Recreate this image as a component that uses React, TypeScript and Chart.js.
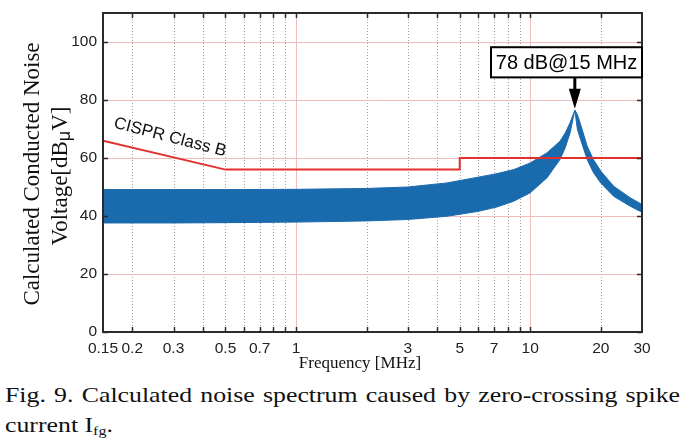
import React, { useEffect, useRef } from 'react';
import { Chart, registerables } from 'chart.js';

Chart.register(...registerables);

// ---- data ----
const freqs = [0.15, 0.3, 0.5, 1, 2, 3, 4.4, 6, 7.2, 8.5, 10, 11.8, 13.4, 14.1, 14.8, 15.5, 15.9, 16.4, 17.5, 18.6, 20, 22.7, 26.7, 30];
const bandUpper = [49.1, 49.1, 49.1, 49.2, 49.5, 50.0, 51.4, 53.4, 54.6, 56.0, 58.3, 61.8, 65.8, 68.6, 72.2, 76.5, 75.0, 71.6, 64.1, 59.5, 55.5, 50.3, 46.3, 44.0];
const bandLower = [37.6, 37.6, 37.7, 37.9, 38.3, 38.8, 39.9, 41.6, 43.1, 45.1, 48.0, 53.2, 59.5, 63.5, 68.7, 76.5, 69.8, 66.4, 59.5, 55.0, 51.4, 46.8, 43.4, 41.3];

const cisprFreqs = [0.15, 0.5, 5, 5, 30];
const cisprLimit = [66, 56, 56, 60, 60];

const xGridValues = [0.15, 0.2, 0.3, 0.4, 0.5, 0.6, 0.7, 0.8, 0.9, 1, 2, 3, 4, 5, 6, 7, 8, 9, 10, 20, 30];
const xTickLabels = [0.15, 0.2, 0.3, 0.5, 0.7, 1, 3, 5, 7, 10, 20, 30];
const xMajorGrid = [1, 10];
const yTickValues = [0, 20, 40, 60, 80, 100];

const peakLabel = '78 dB@15 MHz';
const peakPoint = [15.5, 77];
const peakBox = [6.8, 30, 87.8, 98.2]; // xMin, xMax, yMin, yMax
const cisprLabel = 'CISPR Class B';
const cisprLabelPos = [0.29, 67.1];

const yTitleLine1 = 'Calculated Conducted Noise';
const yTitleLine2 = ['Voltage[dB', 'μ', 'V]'];
const xTitle = 'Frequency [MHz]';
const captionLine1 = 'Fig. 9. Calculated noise spectrum caused by zero-crossing spike';
const captionLine2 = 'current I';
const captionSub = 'fg';

const BLUE = '#1a6aae';
const RED = '#e3302c';
const PINK = '#f1bcbc';
const SANS = '"Liberation Sans", Arial, sans-serif';
const SERIF = '"Liberation Serif", "Times New Roman", serif';

const decor = {
  id: 'decor',
  beforeDatasetsDraw(chart: any) {
    const { ctx, chartArea: a, scales } = chart;
    const x = scales.x, y = scales.y;
    ctx.save();
    ctx.beginPath();
    ctx.rect(a.left, a.top, a.right - a.left, a.bottom - a.top);
    ctx.clip();
    ctx.lineWidth = 1;
    ctx.strokeStyle = '#a3a3a3';
    ctx.setLineDash([1, 2]);
    for (const v of xGridValues) {
      if (v <= 0.15 || v >= 30 || xMajorGrid.includes(v)) continue;
      const px = Math.round(x.getPixelForValue(v)) + 0.5;
      ctx.beginPath();
      ctx.moveTo(px, a.top);
      ctx.lineTo(px, a.bottom);
      ctx.stroke();
    }
    ctx.setLineDash([]);
    ctx.strokeStyle = PINK;
    for (const v of xMajorGrid) {
      const px = Math.round(x.getPixelForValue(v)) + 0.5;
      ctx.beginPath();
      ctx.moveTo(px, a.top);
      ctx.lineTo(px, a.bottom);
      ctx.stroke();
    }
    for (const v of yTickValues) {
      if (v === 0) continue;
      const py = Math.round(y.getPixelForValue(v)) + 0.5;
      ctx.beginPath();
      ctx.moveTo(a.left, py);
      ctx.lineTo(a.right, py);
      ctx.stroke();
    }
    ctx.restore();
  },
  afterDatasetsDraw(chart: any) {
    const { ctx, chartArea: a, scales } = chart;
    const x = scales.x, y = scales.y;
    ctx.save();
    ctx.strokeStyle = '#2b2b2b';
    ctx.lineWidth = 2;
    ctx.strokeRect(a.left, a.top, a.right - a.left, a.bottom - a.top);
    ctx.lineWidth = 1.5;
    const tl = 5;
    for (const v of xGridValues) {
      if (v <= 0.15 || v >= 30) continue;
      const px = Math.round(x.getPixelForValue(v)) + 0.5;
      ctx.beginPath();
      ctx.moveTo(px, a.bottom);
      ctx.lineTo(px, a.bottom - tl);
      ctx.moveTo(px, a.top);
      ctx.lineTo(px, a.top + tl);
      ctx.stroke();
    }
    for (const v of yTickValues) {
      const py = Math.round(y.getPixelForValue(v)) + 0.5;
      ctx.beginPath();
      ctx.moveTo(a.left, py);
      ctx.lineTo(a.left + tl, py);
      ctx.moveTo(a.right, py);
      ctx.lineTo(a.right - tl, py);
      ctx.stroke();
    }

    // peak annotation
    const bx0 = x.getPixelForValue(peakBox[0]);
    const bx1 = x.getPixelForValue(peakBox[1]);
    const by0 = y.getPixelForValue(peakBox[3]);
    const by1 = y.getPixelForValue(peakBox[2]);
    const tipX = x.getPixelForValue(peakPoint[0]);
    const tipY = y.getPixelForValue(peakPoint[1]);
    const headLen = 20, headW = 6;
    ctx.strokeStyle = '#000';
    ctx.fillStyle = '#000';
    ctx.lineWidth = 3;
    ctx.beginPath();
    ctx.moveTo(tipX, by1);
    ctx.lineTo(tipX, tipY - headLen + 2);
    ctx.stroke();
    ctx.beginPath();
    ctx.moveTo(tipX - headW, tipY - headLen);
    ctx.lineTo(tipX + headW, tipY - headLen);
    ctx.lineTo(tipX, tipY);
    ctx.closePath();
    ctx.fill();
    ctx.fillStyle = '#fff';
    ctx.fillRect(bx0, by0, bx1 - bx0, by1 - by0);
    ctx.lineWidth = 2;
    ctx.strokeRect(bx0, by0, bx1 - bx0, by1 - by0);
    ctx.fillStyle = '#000';
    ctx.font = `20px ${SANS}`;
    ctx.textAlign = 'center';
    ctx.textBaseline = 'middle';
    ctx.fillText(peakLabel, (bx0 + bx1) / 2, (by0 + by1) / 2 + 1);

    // CISPR label
    ctx.save();
    ctx.translate(x.getPixelForValue(cisprLabelPos[0]), y.getPixelForValue(cisprLabelPos[1]));
    ctx.rotate((14.5 * Math.PI) / 180);
    ctx.font = `17px ${SANS}`;
    ctx.fillStyle = '#111';
    ctx.fillText(cisprLabel, 0, 0);
    ctx.restore();

    // x title
    ctx.font = `17px ${SERIF}`;
    ctx.fillStyle = '#111';
    ctx.textAlign = 'center';
    ctx.textBaseline = 'alphabetic';
    ctx.fillText(xTitle, 360, 368);

    // y title
    ctx.save();
    ctx.translate(33, 174);
    ctx.rotate(-Math.PI / 2);
    ctx.font = `23px ${SERIF}`;
    ctx.textAlign = 'center';
    ctx.textBaseline = 'middle';
    ctx.fillText(yTitleLine1, 0, 0);
    ctx.restore();

    ctx.save();
    ctx.translate(61, 176);
    ctx.rotate(-Math.PI / 2);
    ctx.textAlign = 'left';
    ctx.textBaseline = 'middle';
    const f1 = `23px ${SERIF}`;
    const f2 = `18px ${SANS}`;
    ctx.font = f1;
    const w0 = ctx.measureText(yTitleLine2[0]).width;
    const w2 = ctx.measureText(yTitleLine2[2]).width;
    ctx.font = f2;
    const w1 = ctx.measureText(yTitleLine2[1]).width;
    let sx = -(w0 + w1 + w2) / 2;
    ctx.font = f1;
    ctx.fillText(yTitleLine2[0], sx, 0);
    sx += w0;
    ctx.font = f2;
    ctx.fillText(yTitleLine2[1], sx, 4);
    sx += w1;
    ctx.font = f1;
    ctx.fillText(yTitleLine2[2], sx, 0);
    ctx.restore();

    ctx.restore();
  },
};

const STRETCH = 1.2;

export default function App() {
  const ref = useRef<HTMLCanvasElement | null>(null);

  useEffect(() => {
    if (!ref.current) return;
    const chart = new Chart(ref.current, {
      type: 'line',
      data: {
        datasets: [
          {
            label: 'CISPR Class B',
            data: cisprFreqs.map((f, i) => ({ x: f, y: cisprLimit[i] })),
            borderColor: RED,
            borderWidth: 2,
            pointRadius: 0,
            tension: 0,
            fill: false,
          },
          {
            label: 'upper',
            data: freqs.map((f, i) => ({ x: f, y: bandUpper[i] })),
            borderColor: BLUE,
            backgroundColor: BLUE,
            borderWidth: 1,
            pointRadius: 0,
            tension: 0,
            fill: '+1',
          },
          {
            label: 'lower',
            data: freqs.map((f, i) => ({ x: f, y: bandLower[i] })),
            borderColor: BLUE,
            backgroundColor: BLUE,
            borderWidth: 1,
            pointRadius: 0,
            tension: 0,
            fill: false,
          },
        ],
      },
      options: {
        responsive: false,
        animation: false,
        devicePixelRatio: 1,
        layout: { padding: { top: 13, left: 8, right: 43, bottom: 0 } },
        plugins: {
          legend: { display: false },
          tooltip: { enabled: false },
        },
        scales: {
          x: {
            type: 'logarithmic',
            min: 0.15,
            max: 30,
            grid: { display: false, drawTicks: false },
            border: { display: false },
            afterBuildTicks: (s: any) => {
              s.ticks = xGridValues.map((v) => ({ value: v }));
            },
            afterFit: (s: any) => {
              s.height = 48;
              s.paddingLeft = 0;
              s.paddingRight = 0;
            },
            ticks: {
              autoSkip: false,
              maxRotation: 0,
              minRotation: 0,
              padding: 7,
              color: '#222',
              font: { family: SANS, size: 15.5 },
              callback: (v: any) => (xTickLabels.includes(Number(v)) ? String(v) : ''),
            },
          },
          y: {
            type: 'linear',
            min: 0,
            max: 110,
            grid: { display: false, drawTicks: false },
            border: { display: false },
            afterBuildTicks: (s: any) => {
              s.ticks = yTickValues.map((v) => ({ value: v }));
            },
            afterFit: (s: any) => {
              s.width = 95;
              s.paddingTop = 0;
              s.paddingBottom = 0;
            },
            ticks: {
              padding: 6,
              color: '#222',
              font: { family: SANS, size: 15.5 },
              callback: (v: any) => String(v),
            },
          },
        },
      },
      plugins: [decor],
    } as any);
    return () => chart.destroy();
  }, []);

  return (
    <div style={{ position: 'absolute', left: 0, top: 0, width: 685, height: 448, background: '#fff', overflow: 'hidden' }}>
      <canvas ref={ref} width={685} height={380} style={{ display: 'block', width: 685, height: 380 }} />
      <div
        style={{
          position: 'absolute',
          left: 5,
          top: 380,
          width: 675 / STRETCH,
          transform: `scaleX(${STRETCH})`,
          transformOrigin: '0 0',
          fontFamily: SERIF,
          fontSize: 21.5,
          lineHeight: '30px',
          color: '#111',
        }}
      >
        <div style={{ textAlign: 'justify', textAlignLast: 'justify', whiteSpace: 'nowrap' } as any}>
          {captionLine1}
        </div>
        <div>
          {captionLine2}
          <sub style={{ fontSize: '0.62em', verticalAlign: '-0.25em', lineHeight: 0 }}>{captionSub}</sub>.
        </div>
      </div>
    </div>
  );
}
